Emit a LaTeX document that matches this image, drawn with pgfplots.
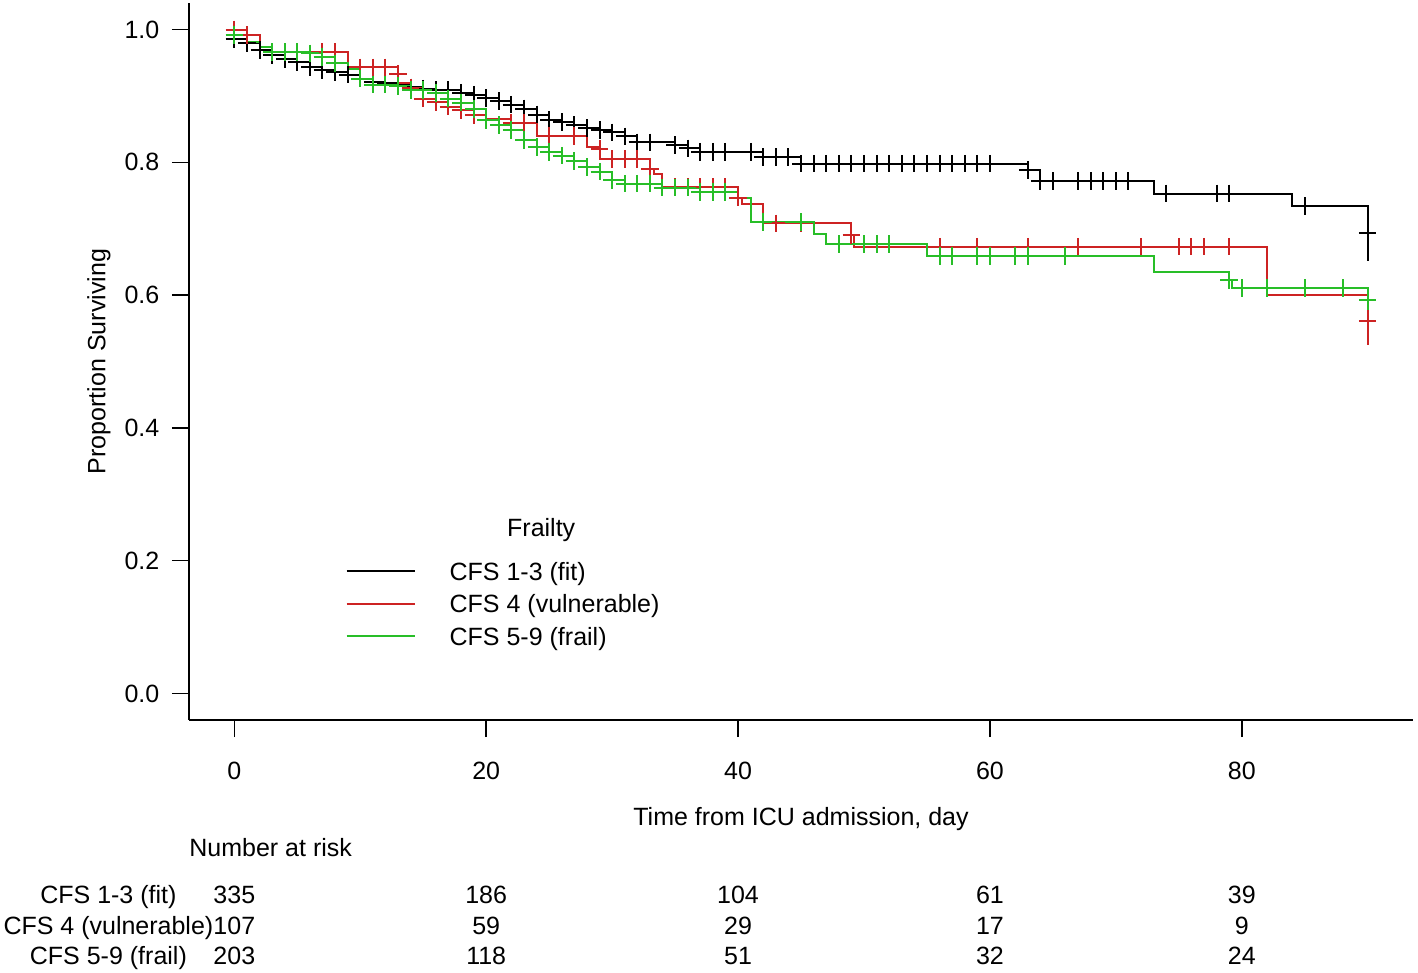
\documentclass[border=0pt]{standalone}
\usepackage{pgfplots}
\pgfplotsset{compat=1.18}
\usepackage{pgfplotstable}
\usepackage{fontspec}
\setmainfont{Liberation Sans}

\definecolor{kmred}{RGB}{205,35,35}
\definecolor{kmgreen}{RGB}{40,190,40}

% Kaplan-Meier steps: time (days), survival after the step
\pgfplotstableread{
t s
0 0.986
1 0.979
2 0.969
3 0.961
4 0.956
5 0.951
6 0.944
7 0.939
8 0.936
9 0.932
10 0.926
11 0.921
12 0.919
13 0.916
14 0.913
15 0.911
16 0.909
18 0.905
19 0.902
20 0.897
21 0.892
22 0.887
23 0.881
24 0.872
25 0.864
26 0.861
27 0.856
28 0.852
29 0.849
30 0.845
31 0.839
32 0.830
35 0.826
36 0.821
37 0.816
42 0.808
45 0.798
63 0.788
64 0.772
73 0.753
84 0.734
90 0.694
90 0.651
}\fitcurve

\pgfplotstableread{
t s
0 0.986
1 0.979
2 0.969
3 0.961
4 0.956
5 0.951
6 0.944
7 0.939
8 0.936
9 0.932
10 0.926
11 0.921
12 0.919
14 0.913
15 0.911
16 0.909
17 0.909
18 0.905
19 0.902
20 0.897
21 0.892
22 0.887
23 0.881
24 0.872
25 0.864
26 0.861
27 0.856
28 0.852
29 0.849
30 0.845
31 0.839
32 0.830
33 0.830
35 0.826
36 0.821
37 0.816
38 0.816
39 0.816
41 0.816
42 0.808
43 0.808
44 0.808
45 0.798
46 0.798
47 0.798
48 0.798
49 0.798
50 0.798
51 0.798
52 0.798
53 0.798
54 0.798
55 0.798
56 0.798
57 0.798
58 0.798
59 0.798
60 0.798
63 0.788
64 0.772
65 0.772
67 0.772
68 0.772
69 0.772
70 0.772
71 0.772
74 0.753
78 0.753
79 0.753
85 0.734
90 0.694
}\fitcens

\pgfplotstableread{
t s
0 1.000
1 0.992
2 0.974
3 0.966
9 0.943
13 0.920
14 0.912
15 0.896
16 0.891
17 0.884
18 0.879
19 0.871
20 0.865
22 0.859
24 0.840
28 0.823
29 0.805
33 0.790
33.3 0.783
34 0.763
40 0.747
40.3 0.737
42 0.708
49 0.690
49.2 0.673
82 0.600
90 0.561
90 0.525
}\vulcurve

\pgfplotstableread{
t s
0 1.000
1 0.992
5 0.966
7 0.966
8 0.966
10 0.943
11 0.943
12 0.943
13 0.933
14 0.912
15 0.896
16 0.891
17 0.884
18 0.879
19 0.871
22 0.859
23 0.859
25 0.840
27 0.840
29 0.820
30 0.805
31 0.805
32 0.805
33 0.790
35 0.763
36 0.763
37 0.763
38 0.763
39 0.763
40 0.747
43 0.708
45 0.708
49 0.690
56 0.673
59 0.673
63 0.673
67 0.673
72 0.673
75 0.673
76 0.673
77 0.673
79 0.673
90 0.561
}\vulcens

\pgfplotstableread{
t s
0 0.992
1 0.981
2 0.974
3 0.966
6 0.964
7 0.959
8 0.949
9 0.940
10 0.926
11 0.917
13 0.915
14 0.909
16 0.904
17 0.896
18 0.890
19 0.880
20 0.864
21 0.856
22 0.849
23 0.834
24 0.823
25 0.816
26 0.810
27 0.802
28 0.793
29 0.786
30 0.773
31 0.768
34 0.762
37 0.755
40 0.746
41 0.710
46 0.692
47 0.677
55 0.659
73 0.635
79 0.623
79.2 0.611
90 0.593
90 0.578
}\frailcurve

\pgfplotstableread{
t s
0 0.992
3 0.966
4 0.966
5 0.966
6 0.964
7 0.959
8 0.949
10 0.926
11 0.917
12 0.917
13 0.915
14 0.909
15 0.909
16 0.904
17 0.896
18 0.890
19 0.880
20 0.864
21 0.856
22 0.849
23 0.834
24 0.823
25 0.816
26 0.810
27 0.802
28 0.793
29 0.786
30 0.773
31 0.768
32 0.768
33 0.768
34 0.762
35 0.762
36 0.762
37 0.755
38 0.755
39 0.755
42 0.710
45 0.710
48 0.677
50 0.677
51 0.677
52 0.677
56 0.659
57 0.659
59 0.659
60 0.659
62 0.659
63 0.659
66 0.659
79 0.623
80 0.611
82 0.611
85 0.611
88 0.611
90 0.593
}\frailcens

\begin{document}
\fontsize{12.5}{15}\selectfont
\begin{tikzpicture}
\path[use as bounding box] (-94.5pt,-126.5pt) rectangle (614.5pt,360pt);
\begin{axis}[
    scale only axis,
    width=612pt, height=358.5pt,
    xmin=-3.6, xmax=93.6,
    ymin=-0.04, ymax=1.04,
    axis x line*=bottom, axis y line*=left,
    axis line style={line width=0.8pt, -},
    xtick={0,20,40,60,80},
    ytick={0,0.2,0.4,0.6,0.8,1},
    minor tick num=0,
    tick align=outside,
    major tick length=8.5pt,
    tick style={line width=0.8pt, black},
    xticklabel style={yshift=-8pt, /pgf/number format/assume math mode=true},
    yticklabel style={xshift=-2pt, /pgf/number format/.cd, fixed, fixed zerofill, precision=1, assume math mode=true},
    xlabel={Time from ICU admission, day},
    ylabel={Proportion Surviving},
    xlabel style={at={(axis description cs:0.5,-0.1381)}, anchor=center},
    ylabel style={at={(axis description cs:-0.0735,0.5)}, anchor=center},
    clip=false,
    legend style={draw=none, fill=none, inner sep=0pt,
        at={(axis cs:8.81,0.1308)}, anchor=west,
        row sep=4.25pt,
        nodes={inner sep=0pt, text height=9pt, text depth=3pt}},
    legend image code/.code={\draw[#1] (0pt,1.5pt) -- (34pt,1.5pt); \path[draw=none] (0pt,1.5pt) -- (51.5pt,1.5pt);},
    legend cell align=left,
]
\addplot[const plot, black, line width=1pt] table {\fitcurve};
\addplot[const plot, kmred, line width=1pt] table {\vulcurve};
\addplot[const plot, kmgreen, line width=1pt] table {\frailcurve};
\legend{CFS 1-3 (fit), CFS 4 (vulnerable), CFS 5-9 (frail)}

\addplot[only marks, mark=+, mark size=4.4pt, black, line width=1pt, forget plot] table {\fitcens};
\addplot[only marks, mark=+, mark size=4.4pt, kmred, line width=1pt, forget plot] table {\vulcens};
\addplot[only marks, mark=+, mark size=4.4pt, kmgreen, line width=1pt, forget plot] table {\frailcens};

\node[anchor=base] at (axis cs:24.37,0.2361) {Frailty};

% number at risk
\node[anchor=base west, inner sep=0pt] at (axis cs:-3.6,-0.2451) {Number at risk};
\node[anchor=base] at (axis cs:-10,-0.3158) {CFS 1-3 (fit)};
\node[anchor=base] at (axis cs:-10,-0.3624) {CFS 4 (vulnerable)};
\node[anchor=base] at (axis cs:-10,-0.4090) {CFS 5-9 (frail)};
\node[anchor=base] at (axis cs:0,-0.3158) {335};
\node[anchor=base] at (axis cs:20,-0.3158) {186};
\node[anchor=base] at (axis cs:40,-0.3158) {104};
\node[anchor=base] at (axis cs:60,-0.3158) {61};
\node[anchor=base] at (axis cs:80,-0.3158) {39};
\node[anchor=base] at (axis cs:0,-0.3624) {107};
\node[anchor=base] at (axis cs:20,-0.3624) {59};
\node[anchor=base] at (axis cs:40,-0.3624) {29};
\node[anchor=base] at (axis cs:60,-0.3624) {17};
\node[anchor=base] at (axis cs:80,-0.3624) {9};
\node[anchor=base] at (axis cs:0,-0.4090) {203};
\node[anchor=base] at (axis cs:20,-0.4090) {118};
\node[anchor=base] at (axis cs:40,-0.4090) {51};
\node[anchor=base] at (axis cs:60,-0.4090) {32};
\node[anchor=base] at (axis cs:80,-0.4090) {24};
\end{axis}
\end{tikzpicture}
\end{document}
